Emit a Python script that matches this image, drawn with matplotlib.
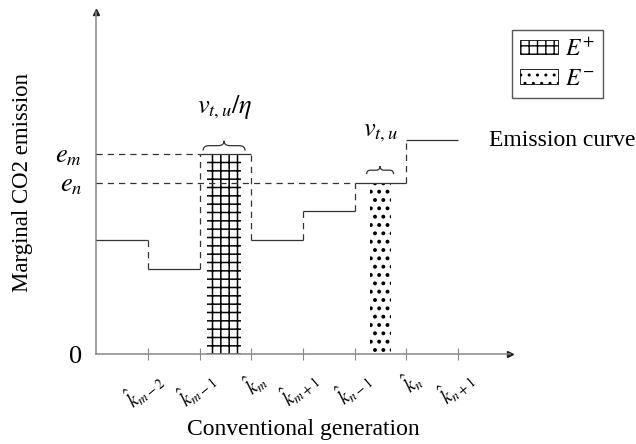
import matplotlib
matplotlib.use("Agg")
import matplotlib.pyplot as plt
from matplotlib.patches import Patch, PathPatch
from matplotlib.path import Path
from matplotlib.transforms import ScaledTranslation

plt.rcParams["font.family"] = "serif"
plt.rcParams["font.serif"] = ["Liberation Serif", "DejaVu Serif"]
plt.rcParams["mathtext.fontset"] = "stix"

# Step emission curve: generator boundaries and marginal emission levels
step_edges = [0, 1, 2, 3, 4, 5, 6, 7]
step_levels = [4, 3, 7, 4, 5, 6, 7.5]
e_m = 7
e_n = 6

# Shaded regions E+ and E-
bar_left = [2.15, 5.3]
bar_right = [2.8, 5.7]
bar_height = [e_m, e_n]
bar_hatch = ["++", ".."]
hatch_width = [1.1, 1.6]
bar_labels = ["$E^{+}$", "$E^{-}$"]

tick_pos = [1, 2, 3, 4, 5, 6, 7]
tick_labels = [r"$\hat{k}_{m-2}$", r"$\hat{k}_{m-1}$", r"$\hat{k}_{m}$",
               r"$\hat{k}_{m+1}$", r"$\hat{k}_{n-1}$", r"$\hat{k}_{n}$",
               r"$\hat{k}_{n+1}$"]

line_color = "#333333"
axis_color = "#888888"
dash = (0, (5, 4))


def draw_brace(ax, x0, x1, y, h):
    """Draw a small upward curly brace between x0 and x1."""
    xm = (x0 + x1) / 2
    q = (x1 - x0) * 0.14
    ym = y + h / 2
    verts = [
        (x0, y), (x0, ym), (x0 + q, ym),
        (xm - q, ym),
        (xm, ym), (xm, y + h),
        (xm, y + h), (xm, ym), (xm + q, ym),
        (x1 - q, ym),
        (x1, ym), (x1, y),
    ]
    codes = [
        Path.MOVETO, Path.CURVE3, Path.CURVE3,
        Path.LINETO,
        Path.CURVE3, Path.CURVE3,
        Path.MOVETO, Path.CURVE3, Path.CURVE3,
        Path.LINETO,
        Path.CURVE3, Path.CURVE3,
    ]
    ax.add_patch(PathPatch(Path(verts, codes), facecolor="none",
                           edgecolor=line_color, linewidth=0.9,
                           clip_on=False))


fig = plt.figure(figsize=(6.36, 4.44), dpi=100)
ax = fig.add_axes([96 / 636, 90 / 444, 414 / 636, 342 / 444])

# Hatched bars
for x0, x1, h, hatch, hw in zip(bar_left, bar_right, bar_height,
                                bar_hatch, hatch_width):
    with plt.rc_context({"hatch.linewidth": hw}):
        ax.bar(x0, h, width=x1 - x0, align="edge", facecolor="white",
               edgecolor="black", linewidth=0.0, hatch=hatch, zorder=2)

# Solid steps
for i, level in enumerate(step_levels):
    ax.hlines(level, step_edges[i], step_edges[i + 1], color=line_color,
              linewidth=0.9, zorder=3)

# Dashed vertical connectors between steps
for i in range(1, len(step_levels)):
    lo = min(step_levels[i - 1], step_levels[i])
    hi = max(step_levels[i - 1], step_levels[i])
    ax.vlines(step_edges[i], lo, hi, color=line_color, linewidth=0.9,
              linestyle=dash, zorder=3)

# Dashed guides to e_m and e_n
ax.hlines(e_m, 0, step_edges[2], color=line_color, linewidth=0.9,
          linestyle=dash, zorder=3)
ax.hlines(e_n, 0, step_edges[5], color=line_color, linewidth=0.9,
          linestyle=dash, zorder=3)

# Braces and their labels
draw_brace(ax, 2.07, 2.88, 7.14, 0.34)
draw_brace(ax, 5.23, 5.75, 6.31, 0.28)
ax.text(2.48, 8.65, r"$v_{t,u}/\eta$", fontsize=19, ha="center",
        va="center")
ax.text(5.5, 7.75, r"$v_{t,u}$", fontsize=19, ha="center", va="center")

ax.text(7.6, 7.5, "Emission curve", fontsize=17, ha="left", va="center",
        clip_on=False)

# Axes styling
ax.set_xlim(0, 8)
ax.set_ylim(0, 12)
for side in ["top", "right"]:
    ax.spines[side].set_visible(False)
for side in ["left", "bottom"]:
    ax.spines[side].set_color(axis_color)
    ax.spines[side].set_linewidth(1.1)
ax.plot(1, 0, ">", color="#222222", markersize=5,
        transform=ax.get_yaxis_transform(), clip_on=False)
ax.plot(0, 1, "^", color="#222222", markersize=5,
        transform=ax.get_xaxis_transform(), clip_on=False)

ax.set_xticks(tick_pos)
ax.set_xticklabels(tick_labels, fontsize=14, rotation=40, ha="right",
                   va="center", rotation_mode="anchor")
ax.tick_params(axis="x", direction="inout", length=8, width=0.8,
               color=axis_color, pad=12)
offset = ScaledTranslation(12 / 100, 0, fig.dpi_scale_trans)
for label in ax.get_xticklabels():
    label.set_transform(label.get_transform() + offset)

ax.set_yticks([0, e_n, e_m])
ax.set_yticklabels(["0", "$e_n$", "$e_m$"], fontsize=19)
ax.tick_params(axis="y", length=0, pad=10)

ax.set_xlabel("Conventional generation", fontsize=17, labelpad=4)
ax.set_ylabel("Marginal CO2 emission", fontsize=16.5, labelpad=16)

handles = []
for hatch, hw in zip(bar_hatch, hatch_width):
    with plt.rc_context({"hatch.linewidth": hw}):
        handles.append(Patch(facecolor="white", edgecolor="black",
                             linewidth=0.6, hatch=hatch))
ax.legend(handles, bar_labels, loc="upper left",
          bbox_to_anchor=(512 / 636, 1 - 30 / 444),
          bbox_transform=fig.transFigure, fancybox=False,
          edgecolor="#555555", framealpha=1, fontsize=17,
          handlelength=1.6, handleheight=0.55, borderpad=0.35,
          labelspacing=0.35, handletextpad=0.3, borderaxespad=0)

fig.savefig("out.png", dpi=100)
